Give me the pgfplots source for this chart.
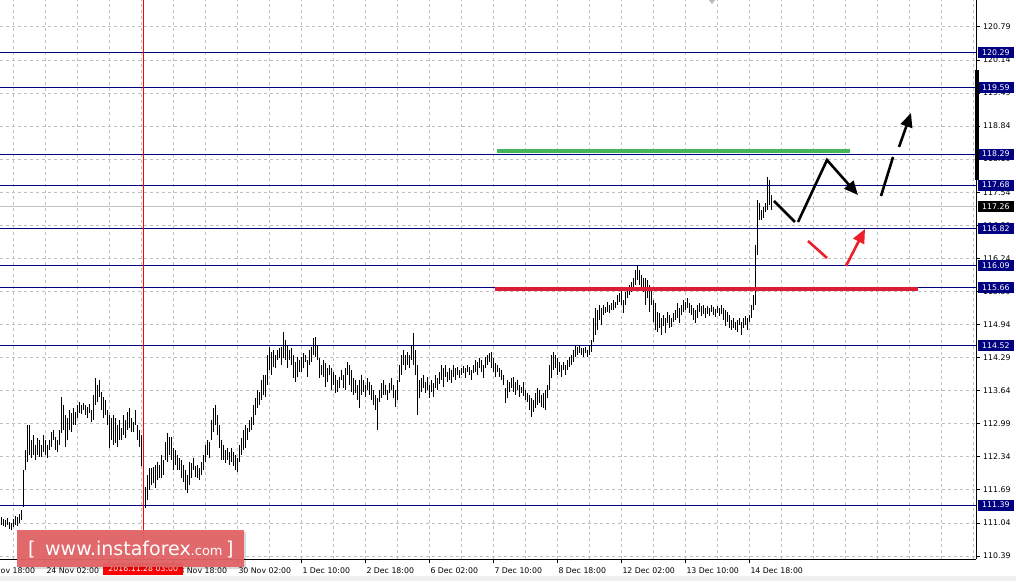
\documentclass[border=0pt]{standalone}
\usepackage{pgfplots}
\pgfplotsset{compat=1.18}
\usepackage{pgfplotstable}
\usepackage{fontspec}
\setmainfont{DejaVu Sans}
\usetikzlibrary{arrows.meta}
\definecolor{navy}{RGB}{0,0,128}
\definecolor{gridc}{RGB}{192,192,192}
\definecolor{wm}{RGB}{226,100,102}
\definecolor{sgreen}{RGB}{70,180,90}
\definecolor{sred}{RGB}{222,28,56}
\definecolor{ared}{RGB}{236,30,40}
\newcommand\tf{\fontsize{7.8}{9}\selectfont}

\pgfplotstableread{
x lo hi
1 111.00 111.15
3 110.98 111.12
5 110.96 111.10
7 111.00 111.14
9 110.92 111.06
11 110.90 111.04
13 110.96 111.12
15 111.00 111.18
17 110.98 111.16
19 111.04 111.22
21 111.10 111.30
23 111.35 112.08
25 112.08 112.47
27 112.23 112.96
29 112.37 112.96
31 112.31 112.67
33 112.37 112.77
35 112.27 112.57
37 112.37 112.71
39 112.33 112.67
41 112.33 112.57
43 112.43 112.77
45 112.37 112.67
47 112.31 112.57
49 112.47 112.67
51 112.53 112.83
53 112.67 112.86
55 112.47 112.73
57 112.43 112.67
59 112.57 112.86
61 112.81 113.51
63 112.86 113.36
65 112.53 113.16
67 112.67 113.10
69 112.86 113.26
71 112.83 113.20
73 112.96 113.30
75 112.96 113.22
77 113.10 113.36
79 113.20 113.42
81 113.18 113.36
83 113.26 113.40
85 113.16 113.36
87 113.10 113.32
89 113.20 113.38
91 113.02 113.26
93 113.06 113.55
95 113.36 113.89
97 113.42 113.75
99 113.51 113.85
101 113.26 113.61
103 113.10 113.51
105 113.16 113.45
107 112.96 113.26
109 112.51 113.16
111 112.67 113.10
113 112.57 113.16
115 112.61 113.10
117 112.53 112.96
119 112.67 113.06
121 112.67 112.90
123 112.77 113.16
125 112.71 113.06
127 112.86 113.22
129 112.90 113.30
131 112.83 113.10
133 112.83 113.02
135 112.96 113.26
137 112.67 112.96
139 112.53 112.86
141 112.16 112.77
143 111.72 112.20
145 111.33 111.75
147 111.49 111.98
149 111.68 112.12
151 111.78 112.12
153 111.82 112.14
155 111.72 112.18
157 111.88 112.24
159 111.92 112.18
161 111.92 112.37
163 111.98 112.27
165 112.27 112.63
167 112.23 112.81
169 112.37 112.73
171 112.27 112.73
173 112.08 112.51
175 112.18 112.47
177 112.08 112.37
179 112.08 112.31
181 111.92 112.27
183 111.84 112.18
185 111.68 112.08
187 111.62 111.98
189 111.78 112.24
191 111.92 112.22
193 112.08 112.31
195 111.94 112.16
197 111.92 112.18
199 111.88 112.12
201 111.98 112.24
203 112.08 112.37
205 112.23 112.57
207 112.37 112.67
209 112.31 112.63
211 112.67 113.06
213 112.83 113.30
215 112.96 113.36
217 112.77 113.16
219 112.51 112.96
221 112.27 112.67
223 112.27 112.57
225 112.22 112.47
227 112.27 112.51
229 112.18 112.43
231 112.23 112.51
233 112.16 112.43
235 112.08 112.37
237 112.04 112.31
239 112.23 112.57
241 112.37 112.71
243 112.47 112.86
245 112.51 112.96
247 112.67 112.90
249 112.83 113.06
251 112.86 113.12
253 112.96 113.36
255 113.16 113.49
257 113.30 113.65
259 113.36 113.61
261 113.45 113.85
263 113.55 113.95
265 113.51 113.95
267 113.75 114.34
269 114.04 114.50
271 113.95 114.40
273 114.10 114.44
275 114.08 114.34
277 114.24 114.44
279 114.28 114.48
281 114.14 114.50
283 114.28 114.79
285 114.24 114.63
287 114.08 114.54
289 114.24 114.44
291 114.14 114.48
293 113.89 114.34
295 113.81 114.20
297 113.91 114.30
299 114.00 114.24
301 114.00 114.30
303 114.08 114.38
305 114.20 114.34
307 113.91 114.24
309 114.14 114.44
311 114.20 114.50
313 114.34 114.67
315 114.30 114.69
317 114.24 114.54
319 113.89 114.28
321 113.95 114.14
323 113.91 114.24
325 113.71 114.18
327 113.81 114.08
329 113.95 114.14
331 113.65 114.08
333 113.75 114.00
335 113.59 113.95
337 113.61 113.85
339 113.69 113.91
341 113.85 114.04
343 113.69 113.95
345 113.65 114.08
347 113.95 114.20
349 113.75 114.14
351 113.61 114.04
353 113.55 113.89
355 113.59 113.85
357 113.45 113.75
359 113.30 113.85
361 113.55 113.95
363 113.61 113.85
365 113.51 113.75
367 113.65 113.89
369 113.55 113.81
371 113.45 113.75
373 113.36 113.65
375 113.26 113.55
377 112.86 113.49
379 113.42 113.65
381 113.49 113.79
383 113.55 113.85
385 113.55 113.75
387 113.45 113.65
389 113.59 113.79
391 113.65 113.89
393 113.49 113.75
395 113.32 113.65
397 113.45 113.85
399 113.81 114.14
401 113.95 114.34
403 114.14 114.44
405 114.04 114.34
407 114.14 114.40
409 114.08 114.34
411 114.24 114.54
413 114.14 114.77
415 113.95 114.44
417 113.16 114.14
419 113.49 113.85
421 113.61 113.89
423 113.69 113.95
425 113.59 113.81
427 113.65 113.91
429 113.49 113.75
431 113.61 113.85
433 113.51 113.79
435 113.69 113.95
437 113.65 113.89
439 113.77 114.00
441 113.85 114.14
443 113.71 114.08
445 113.91 114.14
447 113.81 114.00
449 113.85 114.08
451 113.79 114.04
453 113.91 114.14
455 113.85 114.08
457 113.95 114.10
459 113.89 114.04
461 113.95 114.08
463 113.99 114.12
465 113.89 114.08
467 114.00 114.14
469 113.95 114.10
471 113.85 114.04
473 113.99 114.14
475 114.00 114.24
477 113.95 114.20
479 114.08 114.28
481 114.00 114.24
483 113.89 114.14
485 114.08 114.30
487 114.14 114.34
489 114.20 114.38
491 114.08 114.40
493 114.00 114.28
495 113.91 114.18
497 114.00 114.14
499 113.91 114.08
501 113.85 114.04
503 113.75 113.95
505 113.40 113.69
507 113.49 113.85
509 113.61 113.81
511 113.69 113.89
513 113.61 113.91
515 113.55 113.81
517 113.65 113.85
519 113.51 113.75
521 113.59 113.71
523 113.53 113.81
525 113.45 113.65
527 113.42 113.59
529 113.26 113.55
531 113.12 113.49
533 113.22 113.45
535 113.30 113.59
537 113.36 113.69
539 113.40 113.65
541 113.32 113.55
543 113.30 113.59
545 113.26 113.65
547 113.49 113.75
549 113.65 114.14
551 113.89 114.34
553 114.04 114.40
555 114.08 114.34
557 113.95 114.28
559 114.00 114.20
561 113.91 114.14
563 114.04 114.20
565 113.95 114.14
567 114.04 114.24
569 114.10 114.30
571 114.14 114.34
573 114.20 114.44
575 114.30 114.54
577 114.34 114.50
579 114.38 114.54
581 114.34 114.48
583 114.30 114.48
585 114.38 114.50
587 114.30 114.44
589 114.34 114.54
591 114.40 114.63
593 114.59 115.07
595 114.73 115.26
597 114.83 115.22
599 115.03 115.32
601 114.93 115.26
603 115.13 115.32
605 115.16 115.28
607 115.18 115.38
609 115.16 115.32
611 115.22 115.36
613 115.22 115.42
615 115.26 115.38
617 115.32 115.52
619 115.38 115.56
621 115.32 115.62
623 115.16 115.42
625 115.32 115.58
627 115.46 115.66
629 115.52 115.72
631 115.58 115.77
633 115.62 115.85
635 115.72 116.01
637 115.81 116.11
639 115.72 116.01
641 115.62 115.91
643 115.58 115.85
645 115.32 115.85
647 115.46 115.81
649 115.18 115.72
651 115.32 115.66
653 114.99 115.42
655 114.83 115.36
657 114.79 115.18
659 114.87 115.16
661 114.73 115.07
663 114.91 115.13
665 114.77 115.07
667 114.97 115.18
669 114.87 115.13
671 114.89 115.07
673 114.99 115.16
675 115.03 115.22
677 115.07 115.36
679 114.97 115.26
681 115.13 115.32
683 115.18 115.42
685 115.22 115.38
687 115.26 115.46
689 115.16 115.36
691 115.13 115.32
693 115.03 115.26
695 114.97 115.22
697 115.07 115.32
699 115.18 115.36
701 115.11 115.30
703 115.15 115.32
705 115.07 115.26
707 115.15 115.30
709 115.11 115.26
711 115.18 115.32
713 115.13 115.28
715 115.09 115.24
717 115.16 115.30
719 115.11 115.26
721 115.15 115.32
723 115.03 115.26
725 114.91 115.22
727 114.99 115.18
729 114.87 115.13
731 114.83 115.03
733 114.87 115.07
735 114.83 114.99
737 114.79 115.03
739 114.93 115.07
741 114.73 114.99
743 114.87 115.07
745 114.93 115.11
747 114.83 115.07
749 114.99 115.13
751 115.07 115.32
753 115.22 115.52
755 115.32 116.50
757 116.31 117.39
759 116.99 117.33
761 116.99 117.19
763 117.03 117.25
765 117.15 117.33
767 117.19 117.84
769 117.29 117.78
771 117.19 117.49
}\bars

\begin{document}
\begin{tikzpicture}
\fill[white] (0,0) rectangle (1016pt,581pt);
\fill[gray!12] (0,0) rectangle (1016pt,5pt);
\begin{axis}[
  scale only axis, width=976pt, height=559pt,
  at={(0pt,22pt)}, anchor=south west,
  xmin=0, xmax=976, ymin=110.331, ymax=121.318,
  axis x line*=bottom, axis y line*=right,
  axis line style={black, line width=1pt},
  every tick/.style={black, line width=0.8pt},
  tick align=outside, major tick length=4pt, minor tick length=0pt,
  xtick={45.3,109.3,173.3,237.3,301.3,365.3,429.3,493.3,557.3,621.3,685.3,749.3},
  xticklabels={24 Nov 02:00,{},28 Nov 18:00,30 Nov 02:00,1 Dec 10:00,2 Dec 18:00,6 Dec 02:00,7 Dec 10:00,8 Dec 18:00,12 Dec 02:00,13 Dec 10:00,14 Dec 18:00},
  minor xtick={13.3,77.3,141.3,205.3,269.3,333.3,397.3,461.3,525.3,589.3,653.3,717.3,781.3,813.3,845.3,877.3,909.3,941.3,973.3},
  ytick={110.39,111.04,111.69,112.34,112.99,113.64,114.29,114.94,115.59,116.24,116.89,117.54,118.19,118.84,119.49,120.14,120.79},
  yticklabel={\pgfmathprintnumber[fixed,fixed zerofill,precision=2,assume math mode=true]{\tick}},
  grid=both,
  major grid style={gridc, dash pattern=on 3pt off 3pt, line width=0.8pt},
  minor grid style={gridc, dash pattern=on 3pt off 3pt, line width=0.8pt},
  ticklabel style={font=\tf, text=black},
  xticklabel style={anchor=north west, inner sep=0pt, xshift=1pt, yshift=-4.5pt},
  yticklabel style={anchor=west, inner sep=0pt, xshift=3pt},
  clip=false,
]
% support / resistance levels
\addplot[navy, line width=1pt] coordinates {(0,120.29) (976,120.29)};
\addplot[navy, line width=1pt] coordinates {(0,119.59) (976,119.59)};
\addplot[navy, line width=1pt] coordinates {(0,118.29) (976,118.29)};
\addplot[navy, line width=1pt] coordinates {(0,117.68) (976,117.68)};
\addplot[navy, line width=1pt] coordinates {(0,116.82) (976,116.82)};
\addplot[navy, line width=1pt] coordinates {(0,116.09) (976,116.09)};
\addplot[navy, line width=1pt] coordinates {(0,115.66) (976,115.66)};
\addplot[navy, line width=1pt] coordinates {(0,114.52) (976,114.52)};
\addplot[navy, line width=1pt] coordinates {(0,111.39) (976,111.39)};
\addplot[gridc, line width=1pt] coordinates {(0,117.26) (976,117.26)};
% price bars (high-low)
\addplot[draw=none, mark=none, error bars/.cd, y dir=both, y explicit, error mark=none,
  error bar style={draw=black, line width=1pt, solid, line cap=butt}]
  table[x expr={\thisrow{x}+0.5}, y expr={(\thisrow{lo}+\thisrow{hi})/2}, y error expr={(\thisrow{hi}-\thisrow{lo})/2}] {\bars};
% vertical red line
\addplot[red, line width=1pt] coordinates {(143.3,110.331) (143.3,121.318)};
% drawn levels
\addplot[sgreen, line width=4pt] coordinates {(497,118.35) (850,118.35)};
\addplot[sred, line width=4pt] coordinates {(495,115.638) (918,115.638)};
% scenario arrows
\addplot[black, line width=2.6pt] coordinates {(774,117.368) (795,116.955)};
\addplot[black, line width=2.6pt, -{Triangle[length=14pt,width=12pt]}] coordinates {(798,116.955) (827,118.173) (858,117.485)};
\addplot[black, line width=2.6pt] coordinates {(881,117.466) (893,118.232)};
\addplot[black, line width=2.6pt, -{Triangle[length=14pt,width=12pt]}] coordinates {(899,118.429) (911,119.097)};
\addplot[ared, line width=2.6pt] coordinates {(808,116.581) (827,116.247)};
\addplot[ared, line width=2.6pt, -{Triangle[length=14pt,width=12pt]}] coordinates {(846,116.09) (865,116.817)};
% anchors for right-hand labels
\coordinate (a1) at (axis cs:976,120.29);
\coordinate (a2) at (axis cs:976,119.59);
\coordinate (a3) at (axis cs:976,118.29);
\coordinate (a4) at (axis cs:976,117.68);
\coordinate (a5) at (axis cs:976,116.82);
\coordinate (a6) at (axis cs:976,116.09);
\coordinate (a7) at (axis cs:976,115.66);
\coordinate (a8) at (axis cs:976,114.52);
\coordinate (a9) at (axis cs:976,111.39);
\coordinate (ab) at (axis cs:976,117.26);
\coordinate (tb) at (axis cs:143.3,110.331);
\coordinate (fx) at (axis cs:-18.7,110.331);
\end{axis}
% first, cut-off date label
\node[font=\tf, anchor=north west, inner sep=0pt, xshift=1pt, yshift=-9pt] at (fx) {22 Nov 18:00};
% right-hand level labels
\foreach \c/\t in {a1/120.29,a2/119.59,a3/118.29,a4/117.68,a5/116.82,a6/116.09,a7/115.66,a8/114.52,a9/111.39}
  \node[fill=navy, text=white, font=\tf, anchor=west, inner xsep=4pt, inner ysep=0pt, minimum height=11pt] at ([xshift=2pt]\c) {\t};
\node[fill=black, text=white, font=\tf, anchor=west, inner xsep=4pt, inner ysep=0pt, minimum height=11pt] at ([xshift=2pt]ab) {117.26};
\fill[black] (975pt,401pt) rectangle (978.5pt,511pt);
\fill[gray!55] (709pt,581pt) -- (715pt,581pt) -- (712pt,577pt) -- cycle;
% time label of the vertical line
\node[fill=red, text=white, font=\tf, anchor=north, minimum width=80pt, minimum height=11.5pt, inner sep=0pt] at ([yshift=-4pt]tb) {2016.11.28 03:00};
% watermark
\fill[black, opacity=0.15] (19pt,12pt) rectangle (246pt,49pt);
\fill[wm, opacity=0.95] (17pt,14pt) rectangle (244pt,51pt);
\node[text=white, anchor=base west, inner sep=0pt, font=\fontsize{19}{19}\selectfont] at (28pt,26pt) {[};
\node[text=white, anchor=base west, inner sep=0pt, font=\fontsize{19}{19}\selectfont] at (45pt,26pt) {www.instaforex{\fontsize{13}{13}\selectfont.com}};
\node[text=white, anchor=base west, inner sep=0pt, font=\fontsize{19}{19}\selectfont] at (226pt,26pt) {]};
\pgfresetboundingbox
\path[use as bounding box] (0,0) rectangle (1016pt,581pt);
\end{tikzpicture}
\end{document}
